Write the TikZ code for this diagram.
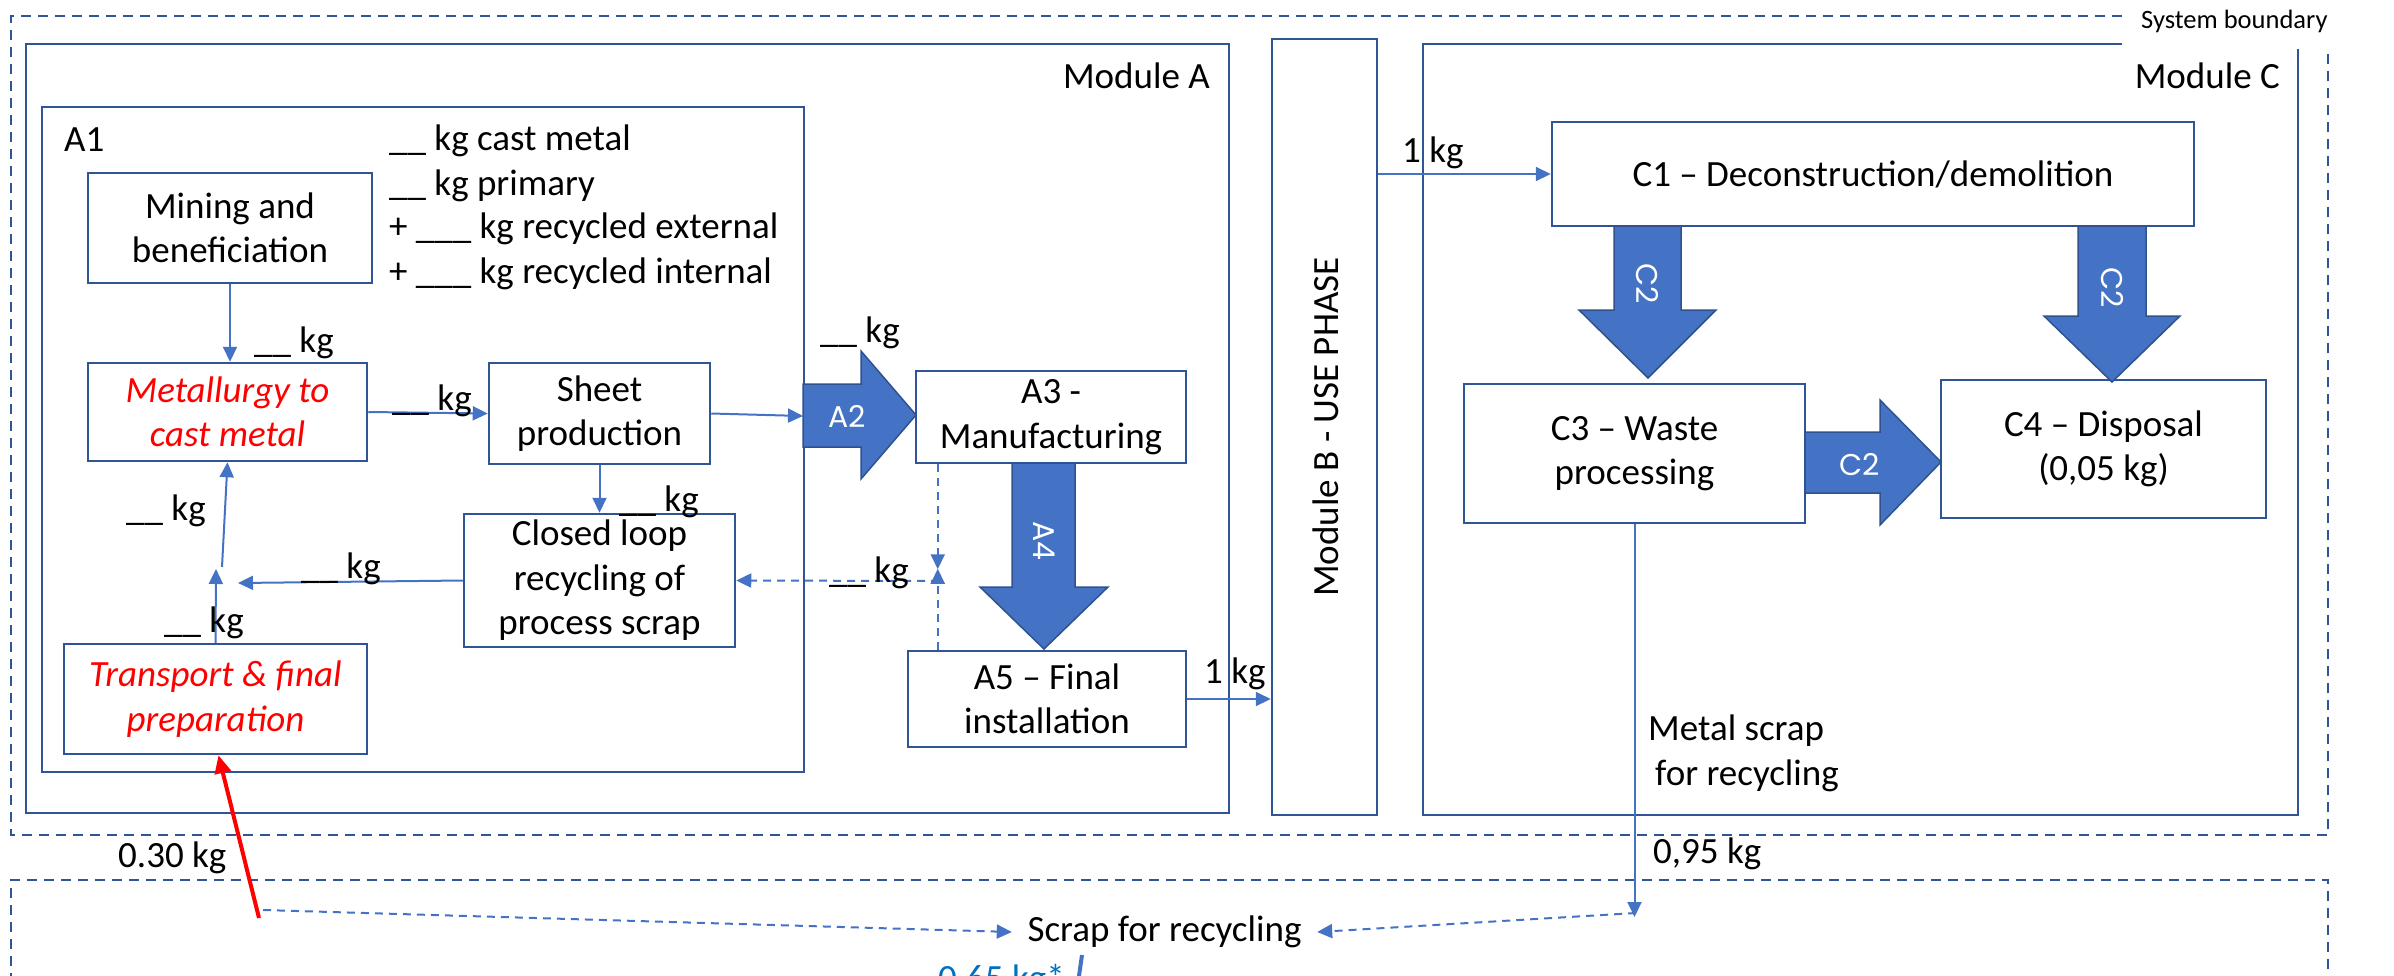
\documentclass[tikz,border=0pt]{standalone}
\usepackage{fontspec}
\setmainfont{Carlito}
\newfontfamily\gothic{Poppins}
\usetikzlibrary{arrows.meta,calc}
\definecolor{edge}{HTML}{2F5597}
\definecolor{flow}{HTML}{4472C4}
\definecolor{flowdark}{HTML}{2F528F}
\definecolor{note}{HTML}{0070C0}
\tikzset{
  txt/.style={font=\fontsize{37}{44.5}\selectfont, inner sep=0pt},
  box/.style={draw=edge, line width=2.5pt, fill=white, align=center, inner sep=0pt,
              font=\fontsize{37}{44.5}\selectfont},
  hot/.style={text=red, font=\fontsize{37}{44.5}\selectfont\itshape},
  frame/.style={draw=edge, line width=2.5pt},
  bound/.style={draw=edge, line width=2.5pt, dash pattern=on 10pt off 7pt},
  arr/.style={draw=flow, line width=2pt, -{Triangle[length=15pt,width=14pt]}},
  darr/.style={arr, dash pattern=on 8pt off 6pt},
  block/.style={fill=flow, draw=flowdark, line width=1.5pt, line join=miter},
  blocklabel/.style={text=white, font=\gothic\fontsize{30}{36}\selectfont, inner sep=0pt},
}
\begin{document}
\begin{tikzpicture}[x=1pt,y=-1pt]
\useasboundingbox (0,0) rectangle (2394,975);
\clip (0,0) rectangle (2394,975);

% system boundary and lower scrap region
\draw[bound] (2122,16) -- (11,16) -- (11,835) -- (2328,835) -- (2328,49);
\node[anchor=base west, inner sep=0pt, font=\fontsize{26.5}{32}\selectfont] (sysb) at (2141,28) {System boundary};
\draw[bound] (11,1000) -- (11,880) -- (2328,880) -- (2328,1000);

% module frames
\draw[frame] (26,44) rectangle (1229,813);
\node[txt, anchor=base east] (modA) at (1210,88) {Module A};
\draw[frame] (42,107) rectangle (804,772);
\node[txt, anchor=base west] (a1) at (64,151) {A1};
\node[draw=edge, line width=2.5pt, minimum width=105pt, minimum height=776pt, inner sep=0pt] (modB) at (1324.5,427) {};
\node[txt, rotate=90] (modBtxt) at (1326,427) {Module B - USE PHASE};
\draw[frame] (2122,44) -- (1423,44) -- (1423,815) -- (2298,815) -- (2298,49);
\node[txt, anchor=base east] (modC) at (2280,88) {Module C};

% material inputs
\node[txt, anchor=base west] (castm) at (389,150) {\_\_ kg cast metal};
\node[txt, anchor=base west] (prim) at (389,195) {\_\_ kg primary};
\node[txt, anchor=base west] (rext) at (389,238) {+ \_\_\_ kg recycled external};
\node[txt, anchor=base west] (rint) at (389,283) {+ \_\_\_ kg recycled internal};

% process boxes
\node[box, minimum width=284pt, minimum height=110pt] (mining) at (230,228) {Mining and\\beneficiation};
\node[box, hot, minimum width=279pt, minimum height=98pt] (metal) at (227.5,412) {Metallurgy to\\cast metal};
\node[box, minimum width=221pt, minimum height=101pt] (sheet) at (599.5,413.5) {Sheet\\production};
\node[box, minimum width=271pt, minimum height=133pt] (closed) at (599.5,580.5) {Closed loop\\recycling of\\process scrap};
\node[box, hot, minimum width=303pt, minimum height=110pt] (transp) at (215.5,699) {Transport \& final\\preparation};
\node[box, minimum width=270pt, minimum height=92pt] (A3) at (1051,417) {A3 -\\Manufacturing};
\node[box, minimum width=278pt, minimum height=96pt] (A5) at (1047,699) {A5 -- Final\\installation};
\node[box, minimum width=642pt, minimum height=104pt] (C1) at (1873,174) {C1 -- Deconstruction/demolition};
\node[box, minimum width=341pt, minimum height=139pt] (C3) at (1634.5,453.5) {C3 -- Waste\\processing};
\node[box, minimum width=325pt, minimum height=138pt] (C4) at (2103.5,449) {C4 -- Disposal\\(0,05 kg)};

% block arrows
\fill[block] (803,384) -- (861,384) -- (861,351) -- (916,415) -- (861,479) -- (861,447) -- (803,447) -- cycle;
\node[blocklabel] (lA2) at (847,416) {A2};
\fill[block] (1012,463) -- (1075,463) -- (1075,587) -- (1108,587) -- (1044,649) -- (980,587) -- (1012,587) -- cycle;
\node[blocklabel, rotate=-90] (lA4) at (1044,541) {A4};
\fill[block] (1614,226) -- (1681,226) -- (1681,310) -- (1716,310) -- (1648,378) -- (1579,310) -- (1614,310) -- cycle;
\node[blocklabel, rotate=-90] (lC2a) at (1647,284) {C2};
\fill[block] (2078,226) -- (2146,226) -- (2146,316) -- (2180,316) -- (2112,382) -- (2044,316) -- (2078,316) -- cycle;
\node[blocklabel, rotate=-90] (lC2b) at (2112,288) {C2};
\fill[block] (1805,432) -- (1880,432) -- (1880,400) -- (1941,462) -- (1880,525) -- (1880,493) -- (1805,493) -- cycle;
\node[blocklabel] (lC2c) at (1860,465) {C2};

% flow connectors
\coordinate (a2in) at (803,416);
\coordinate (jn) at (238,583);
\coordinate (jup) at (216,569);
\coordinate (jfrom) at (222,567);
\draw[arr] (mining.south) -- (mining.south |- metal.north);
\draw[arr] (metal.east) -- (sheet.west);
\draw[arr] (sheet.east) -- (a2in);
\draw[arr] (sheet.south) -- (closed.north);
\draw[arr] (closed.west) -- (jn);
\draw[arr] (transp.north) -- (jup);
\draw[arr] (jfrom) -- (metal.south);
\draw[arr] (A5.east) -- (A5.east -| modB.west);
\draw[arr] (C1.west -| modB.east) -- (C1.west);

% process scrap return (dashed)
\coordinate (dj) at (939,581);
\draw[darr] ($(A3.south west)+(23,0)$) -- ++(0,105);
\draw[darr] ($(A5.north west)+(31,0)$) -- ++(0,-81);
\draw[darr] (dj) -- (closed.east);

% scrap for recycling
\node[txt, minimum width=305pt] (scrap) at (1164.5,932) {Scrap for recycling};
\coordinate (c3end) at (1634.5,917);
\coordinate (sr) at (1636,913);
\coordinate (redtail) at (259,918);
\coordinate (sl) at (263,910);
\draw[arr] (C3.south) -- (c3end);
\draw[darr] (sl) -- (scrap.west);
\draw[darr] (sr) -- (scrap.east);
\draw[red, line width=4pt, -{Triangle[length=18pt,width=16pt]}] (redtail) -- ($(transp.south)+(3,0)$);
\coordinate (blueA) at (1077,990);
\coordinate (blueB) at (1082,955);
\draw[flow, line width=4pt] (blueA) -- (blueB);
\node[txt, anchor=base west, text=note] (pct) at (938,990) {0,65 kg*};

% flow quantities
\node[txt, anchor=base west] (q1) at (254,352) {\_\_ kg};
\node[txt, anchor=base west] (q2) at (392,410) {\_\_ kg};
\node[txt, anchor=base west] (q3) at (126,520) {\_\_ kg};
\node[txt, anchor=base west] (q4) at (164,632) {\_\_ kg};
\node[txt, anchor=base west] (q5) at (301,578) {\_\_ kg};
\node[txt, anchor=base west] (q6) at (619,511) {\_\_ kg};
\node[txt, anchor=base west] (q7) at (820,342) {\_\_ kg};
\node[txt, anchor=base west] (q8) at (829,582) {\_\_ kg};
\node[txt, anchor=base west] (q9) at (1204,683) {1 kg};
\node[txt, anchor=base west] (q10) at (1402,162) {1 kg};
\node[txt, anchor=base west] (ms1) at (1648,740) {Metal scrap};
\node[txt, anchor=base west] (ms2) at (1655,785) {for recycling};
\node[txt, anchor=base west] (q11) at (1653,863) {0,95 kg};
\node[txt, anchor=base west] (q12) at (118,867) {0.30 kg};
\end{tikzpicture}
\end{document}
